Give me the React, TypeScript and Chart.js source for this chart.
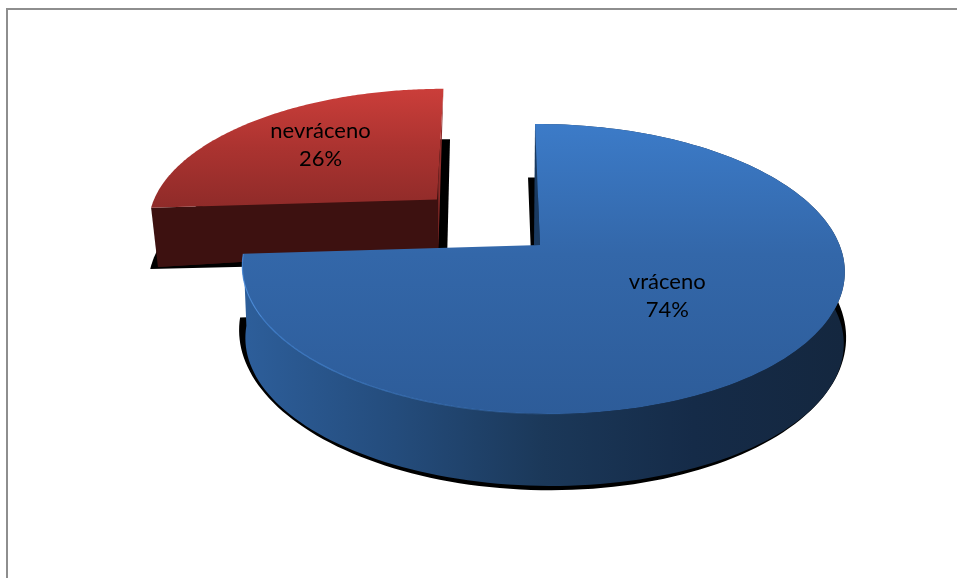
import React, { useEffect, useRef } from "react";
import { Chart, registerables } from "chart.js";

Chart.register(...registerables);

const categories = ["vráceno", "nevráceno"];
const percentages = [74, 26];

type Plane = { cx: number; cy: number; R: number; S: number; a: number; b: number; k: number; m: number };
const K = 0.1655;
const blueTop: Plane = { cx: 540, cy: 245, R: 297, S: 141, a: 5.8, b: 0, k: K, m: 0.0085 };
const blueBottom: Plane = { cx: 541, cy: 317, R: 295, S: 141, a: 5.8, b: 0, k: K, m: 0.0085 };
const blueShadow: Plane = { cx: 533, cy: 308, R: 299, S: 152, a: 5.8, b: 0, k: K, m: 0.028 };
const redTop: Plane = { cx: 437, cy: 199.5, R: 283, S: 129, a: -7.5, b: 0, k: K, m: 0 };
const redBottom: Plane = { cx: 438.3, cy: 250, R: 278, S: 129, a: 0, b: -8.7, k: K, m: 0 };
const redShadow: Plane = { cx: 447, cy: 262, R: 294, S: 143, a: -3.5, b: 2, k: K, m: 0 };

function pt(p: Plane, t: number, f = 1): [number, number] {
  const x = f * Math.sin(t);
  const y = -f * Math.cos(t);
  const w = 1 - p.k * y - p.m * x;
  return [p.cx + (p.R * x + p.a * y) / w, p.cy + (p.S * y + p.b * x) / w];
}

function arcPts(p: Plane, t0: number, t1: number): [number, number][] {
  const out: [number, number][] = [];
  const n = 160;
  for (let i = 0; i <= n; i++) out.push(pt(p, t0 + ((t1 - t0) * i) / n));
  return out;
}

function poly(ctx: CanvasRenderingContext2D, pts: [number, number][], fill: string | CanvasGradient) {
  ctx.beginPath();
  pts.forEach(([x, y], i) => (i ? ctx.lineTo(x, y) : ctx.moveTo(x, y)));
  ctx.closePath();
  ctx.fillStyle = fill;
  ctx.fill();
}

function vGrad(ctx: CanvasRenderingContext2D, y0: number, y1: number, stops: [number, string][]) {
  const g = ctx.createLinearGradient(0, y0, 0, y1);
  stops.forEach(([o, c]) => g.addColorStop(o, c));
  return g;
}

function hGrad(ctx: CanvasRenderingContext2D, x0: number, x1: number, stops: [number, string][]) {
  const g = ctx.createLinearGradient(x0, 0, x1, 0);
  stops.forEach(([o, c]) => g.addColorStop(o, c));
  return g;
}

const pie3d = {
  id: "pie3d",
  beforeDatasetDraw(chart: any) {
    const ctx: CanvasRenderingContext2D = chart.ctx;
    const els = chart.getDatasetMeta(0).data;
    const toT = (a: number) => a + Math.PI / 2;
    const b0 = toT(els[0].startAngle);
    const b1 = toT(els[0].endAngle);
    const r0 = toT(els[1].startAngle);
    const r1 = toT(els[1].endAngle);
    const rMid = (r0 + r1) / 2;
    const bMid = (b0 + b1) / 2;

    ctx.save();

    // frame
    ctx.fillStyle = "#8e8e8e";
    ctx.fillRect(6, 8, 951, 2);
    ctx.fillRect(6, 8, 2, 570);

    // red slice
    poly(ctx, [[redShadow.cx, redShadow.cy], ...arcPts(redShadow, r0, r1)], "#000000");
    poly(ctx, [pt(redTop, r1), [redTop.cx, redTop.cy], [redBottom.cx, redBottom.cy]], "#8e2c2a");
    poly(ctx, [[redBottom.cx, redBottom.cy], ...arcPts(redBottom, r0, r1)], "#3d1110");
    poly(ctx, [pt(redTop, r0), pt(redBottom, r0), [redBottom.cx, redBottom.cy], [redTop.cx, redTop.cy]], "#3d1110");
    poly(
      ctx,
      [[redTop.cx, redTop.cy], ...arcPts(redTop, r0, r1)],
      vGrad(ctx, 88, 208, [
        [0, "#cb3e3a"],
        [0.5, "#ab3330"],
        [1, "#8f2b29"],
      ])
    );

    // blue slice
    poly(ctx, [[blueShadow.cx, blueShadow.cy], ...arcPts(blueShadow, b0, b1)], "#000000");
    const topArc = arcPts(blueTop, b0, b1);
    const botArc = arcPts(blueBottom, b0, b1);
    poly(
      ctx,
      [...topArc, ...botArc.slice().reverse()],
      hGrad(ctx, 245, 843, [
        [0, "#2d5e9a"],
        [0.25, "#244c7c"],
        [0.5, "#1b3859"],
        [0.75, "#152b48"],
        [1, "#14273f"],
      ])
    );
    const start = pt(blueTop, b0);
    poly(ctx, [start, [blueTop.cx, blueTop.cy], [blueTop.cx - 6, blueTop.cy]], "#1a3a60");
    poly(
      ctx,
      [[blueTop.cx, blueTop.cy], ...topArc],
      vGrad(ctx, 124, 414, [
        [0, "#3c7bc8"],
        [0.45, "#3367a9"],
        [1, "#2d5c99"],
      ])
    );

    // rim highlight along the front of the blue slice
    ctx.beginPath();
    arcPts(blueTop, Math.PI * 0.95, b1).forEach(([x, y], i) => (i ? ctx.lineTo(x, y) : ctx.moveTo(x, y)));
    ctx.lineWidth = 1.2;
    ctx.strokeStyle = hGrad(ctx, 242, 600, [
      [0, "rgba(70,136,216,0.85)"],
      [0.6, "rgba(66,128,204,0.5)"],
      [1, "rgba(66,128,204,0)"],
    ]);
    ctx.stroke();

    // labels
    ctx.fillStyle = "#000000";
    ctx.font = '22px Lato, "Open Sans", sans-serif';
    ctx.textAlign = "center";
    ctx.textBaseline = "middle";
    const [bx, by] = pt(blueTop, bMid, 0.54);
    ctx.fillText(categories[0], bx, by - 19);
    ctx.fillText(`${percentages[0]}%`, bx, by + 9);
    const [rx, ry] = pt(redTop, rMid, 0.62);
    ctx.fillText(categories[1], rx, ry - 17);
    ctx.fillText(`${percentages[1]}%`, rx, ry + 11);

    ctx.restore();
    return false;
  },
};

export default function App() {
  const ref = useRef<HTMLCanvasElement>(null);
  useEffect(() => {
    document.body.style.margin = "0";
    document.body.style.background = "#ffffff";
    const chart = new Chart(ref.current!, {
      type: "pie",
      data: {
        labels: categories,
        datasets: [{ data: percentages, backgroundColor: ["#3367a9", "#ab3330"], borderWidth: 0 }],
      },
      options: {
        animation: false,
        responsive: false,
        devicePixelRatio: 1,
        plugins: { legend: { display: false }, tooltip: { enabled: false } },
      },
      plugins: [pie3d],
    });
    return () => chart.destroy();
  }, []);
  return (
    <div style={{ position: "absolute", left: 0, top: 0, width: 957, height: 578, overflow: "hidden" }}>
      <canvas ref={ref} width={957} height={578} style={{ display: "block" }} />
    </div>
  );
}
